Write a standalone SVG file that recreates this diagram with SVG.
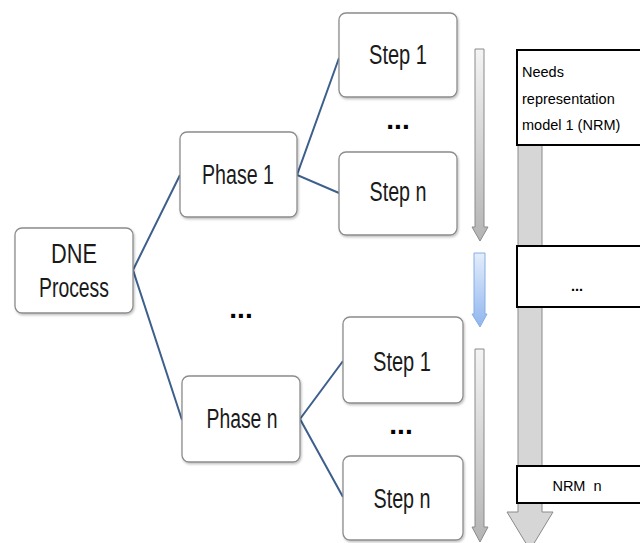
<svg xmlns="http://www.w3.org/2000/svg" width="640" height="543" viewBox="0 0 640 543">
<defs>
<linearGradient id="gs" x1="0" y1="0" x2="0" y2="1"><stop offset="0" stop-color="#f4f4f4"/><stop offset="1" stop-color="#b4b4b4"/></linearGradient>
<linearGradient id="gb" x1="0" y1="0" x2="0" y2="1"><stop offset="0" stop-color="#e4edfb"/><stop offset="1" stop-color="#8fb6ef"/></linearGradient>
<filter id="sh" x="-10%" y="-10%" width="130%" height="130%"><feDropShadow dx="1" dy="1.5" stdDeviation="1.2" flood-color="#000" flood-opacity="0.25"/></filter>
<style>
.n{fill:#fff;stroke:#8c8c8c;stroke-width:1.3;filter:url(#sh)}
.t{font-family:"Liberation Sans",Arial,sans-serif;font-size:27px;fill:#1a1a1a;text-anchor:middle}
.d{font-family:"Liberation Sans",Arial,sans-serif;font-size:28px;font-weight:bold;fill:#000;text-anchor:middle}
.c{fill:none;stroke:#3d5f8c;stroke-width:2}
.b{fill:#fff;stroke:#000;stroke-width:2}
.s{font-family:"Liberation Sans",Arial,sans-serif;font-size:14.5px;fill:#000}
.ar{fill:url(#gs);stroke:#8a8a8a;stroke-width:1}
</style>
</defs>
<rect width="640" height="543" fill="#fff"/>
<g id="connectors">
<polyline class="c" points="180,175 133,270 182,420"/>
<polyline class="c" points="339,58 297,175 339,193"/>
<polyline class="c" points="343,361 300,419 343,497"/>
</g>
<g id="bigarrow"><path d="M518,140 L542,140 L542,512 L553,512 L530,550 L507,512 L518,512 Z" fill="#d6d6d6" stroke="#8a8a8a" stroke-width="1"/></g>
<g id="arrow1"><path class="ar" d="M475,49 L484,49 L484,227 L488,227 L480,241 L472,227 L475,227 Z"/></g>
<g id="arrow2"><path d="M474,253 L485,253 L485,314 L487,314 L480,327 L472,314 L474,314 Z" fill="url(#gb)" stroke="#86aee6" stroke-width="1"/></g>
<g id="arrow3"><path class="ar" d="M475,349 L484,349 L484,527 L488,527 L480,542 L472,527 L475,527 Z"/></g>
<g id="dne"><rect class="n" x="15" y="228" width="118" height="85" rx="7"/><text class="t" x="74" y="263" textLength="46" lengthAdjust="spacingAndGlyphs">DNE</text><text class="t" x="74" y="297" textLength="70" lengthAdjust="spacingAndGlyphs">Process</text></g>
<g id="phase1"><rect class="n" x="180" y="132" width="117" height="85" rx="7"/><text class="t" x="238" y="184" textLength="72" lengthAdjust="spacingAndGlyphs">Phase 1</text></g>
<g id="phasen"><rect class="n" x="182" y="376" width="118" height="86" rx="7"/><text class="t" x="242" y="428" textLength="71" lengthAdjust="spacingAndGlyphs">Phase n</text></g>
<g id="step1a"><rect class="n" x="339" y="13" width="118" height="84" rx="7"/><text class="t" x="398" y="64" textLength="58" lengthAdjust="spacingAndGlyphs">Step 1</text></g>
<g id="stepna"><rect class="n" x="339" y="152" width="118" height="83" rx="7"/><text class="t" x="398" y="201" textLength="57" lengthAdjust="spacingAndGlyphs">Step n</text></g>
<g id="step1b"><rect class="n" x="343" y="317" width="120" height="86" rx="7"/><text class="t" x="402" y="371" textLength="58" lengthAdjust="spacingAndGlyphs">Step 1</text></g>
<g id="stepnb"><rect class="n" x="343" y="456" width="120" height="84" rx="7"/><text class="t" x="402" y="508" textLength="57" lengthAdjust="spacingAndGlyphs">Step n</text></g>
<g id="dots"><text class="d" x="241" y="318">...</text><text class="d" x="398" y="129">...</text><text class="d" x="401" y="434">...</text></g>
<g id="nrm1"><rect class="b" x="517" y="50" width="124" height="95"/><text class="s" x="522" y="77">Needs</text><text class="s" x="522" y="104">representation</text><text class="s" x="522" y="130">model 1 (NRM)</text></g>
<g id="nrmdots"><rect class="b" x="517" y="246" width="124" height="61"/><text class="s" x="577" y="291" text-anchor="middle" font-weight="bold" font-size="19">...</text></g>
<g id="nrmn"><rect class="b" x="517" y="466" width="124" height="37"/><text class="s" x="577" y="491" text-anchor="middle">NRM&#160; n</text></g>
</svg>
